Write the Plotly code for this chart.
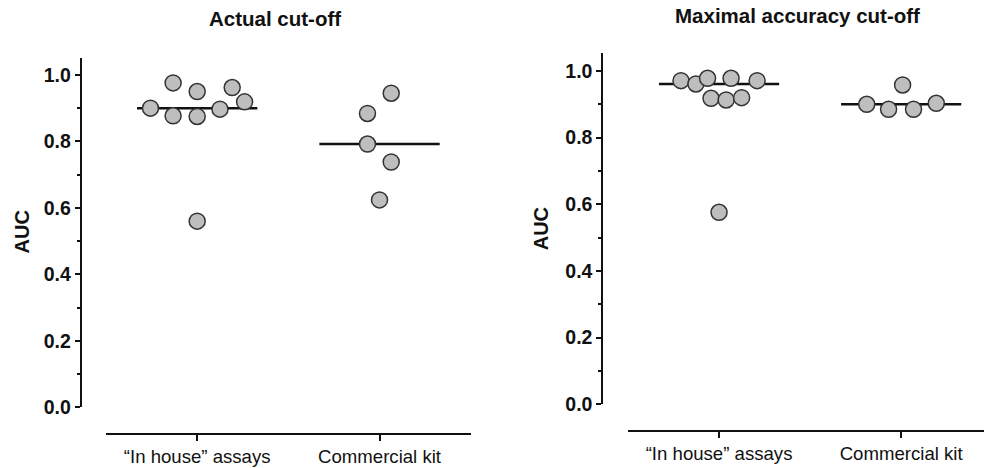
import numpy as np
import plotly.graph_objects as go

# ---- data ----
categories = ["\u201cIn house\u201d assays", "Commercial kit"]
panel_titles = ["Actual cut-off", "Maximal accuracy cut-off"]
y_title = "AUC"
y_ticks = [0.0, 0.2, 0.4, 0.6, 0.8, 1.0]

actual_inhouse = [0.900, 0.976, 0.877, 0.950, 0.875, 0.560, 0.897, 0.962, 0.919]
actual_commercial = [0.884, 0.945, 0.792, 0.738, 0.624]
maxacc_inhouse = [0.971, 0.961, 0.978, 0.918, 0.576, 0.913, 0.978, 0.920, 0.971]
maxacc_commercial = [0.900, 0.885, 0.958, 0.885, 0.903]

# horizontal jitter (category units)
jit_actual_inhouse = [-0.256, -0.132, -0.132, 0.0, 0.0, 0.0, 0.125, 0.192, 0.26]
jit_actual_commercial = [-0.066, 0.064, -0.066, 0.064, 0.0]
jit_maxacc_inhouse = [-0.209, -0.127, -0.063, -0.044, 0.0, 0.039, 0.066, 0.124, 0.209]
jit_maxacc_commercial = [-0.189, -0.069, 0.008, 0.068, 0.193]

W, H = 984, 468
FONT = "Liberation Sans, Arial, sans-serif"
INK = "#111111"

panels = [
    dict(groups=[(actual_inhouse, jit_actual_inhouse), (actual_commercial, jit_actual_commercial)],
         xax="x", yax="y"),
    dict(groups=[(maxacc_inhouse, jit_maxacc_inhouse), (maxacc_commercial, jit_maxacc_commercial)],
         xax="x2", yax="y2"),
]

fig = go.Figure()
half = 0.33
for p in panels:
    for ci, (vals, jit) in enumerate(p["groups"]):
        med = float(np.median(vals))
        fig.add_trace(go.Scatter(
            x=[ci - half, ci + half], y=[med, med], mode="lines",
            line=dict(color=INK, width=2.5), xaxis=p["xax"], yaxis=p["yax"],
            showlegend=False, hoverinfo="skip"))
    for ci, (vals, jit) in enumerate(p["groups"]):
        fig.add_trace(go.Scatter(
            x=[ci + j for j in jit], y=vals, mode="markers",
            marker=dict(size=16, color="#bebebe", line=dict(color="#333333", width=1.5)),
            xaxis=p["xax"], yaxis=p["yax"], showlegend=False, cliponaxis=False))

def xaxis_cfg(domain, rng, pos):
    return dict(domain=domain, range=rng, anchor="free", position=pos, automargin=False,
                showline=True, linecolor=INK, linewidth=2, showgrid=False, zeroline=False,
                ticks="outside", ticklen=6, tickwidth=2, tickcolor=INK,
                tickvals=[0, 1], ticktext=categories,
                tickfont=dict(family=FONT, size=18.6, color=INK))

def yaxis_cfg(domain, rng, pos):
    return dict(domain=domain, range=rng, anchor="free", position=pos, automargin=False,
                showline=True, linecolor=INK, linewidth=2, showgrid=False, zeroline=False,
                ticks="outside", ticklen=5, tickwidth=2, tickcolor=INK,
                tickvals=y_ticks, tickformat=".1f",
                minor=dict(ticks="outside", ticklen=3, tickwidth=2, tickcolor=INK, dtick=0.1, showgrid=False),
                tickfont=dict(family=FONT, size=19.5, color=INK, weight="bold"))

fig.update_layout(
    template="none",
    width=W, height=H, margin=dict(l=0, r=0, t=0, b=0, autoexpand=False),
    paper_bgcolor="white", plot_bgcolor="white",
    xaxis=xaxis_cfg([106 / W, 470.7 / W], [-0.5, 1.5], 1 - 434 / H),
    yaxis=yaxis_cfg([1 - 407.3 / H, 1 - 58.3 / H], [0, 1.05], 80.7 / W),
    xaxis2=xaxis_cfg([628 / W, 1.0], [-0.5, 1.455], 1 - 431 / H),
    yaxis2=yaxis_cfg([1 - 404.3 / H, 1 - 53.3 / H], [0, 1.053], 602.3 / W),
)

ann_font_title = dict(family=FONT, size=20.5, color=INK, weight="bold")
fig.add_annotation(x=275 / W, y=1 - 19 / H, xref="paper", yref="paper", text=panel_titles[0],
                   showarrow=False, font=ann_font_title, xanchor="center", yanchor="middle")
fig.add_annotation(x=797.5 / W, y=1 - 16 / H, xref="paper", yref="paper", text=panel_titles[1],
                   showarrow=False, font=ann_font_title, xanchor="center", yanchor="middle")
ann_font_y = dict(family=FONT, size=20, color=INK, weight="bold")
fig.add_annotation(x=21.7 / W, y=1 - 231.7 / H, xref="paper", yref="paper", text=y_title,
                   textangle=-90, showarrow=False, font=ann_font_y, xanchor="center", yanchor="middle")
fig.add_annotation(x=541.3 / W, y=1 - 229 / H, xref="paper", yref="paper", text=y_title,
                   textangle=-90, showarrow=False, font=ann_font_y, xanchor="center", yanchor="middle")

fig.write_html("out.html", config={"displayModeBar": False},
               post_script="document.body.style.margin='0';document.body.style.overflow='hidden';")
